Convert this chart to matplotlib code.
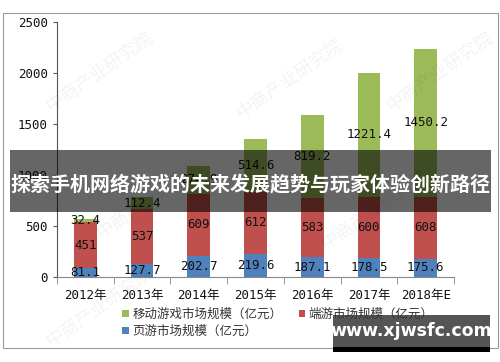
import matplotlib.pyplot as plt
from matplotlib.patches import Rectangle
import numpy as np

# data (亿元)
years = ["2012年", "2013年", "2014年", "2015年", "2016年", "2017年", "2018年E"]
web_game = [81.1, 127.7, 202.7, 219.6, 187.1, 178.5, 175.6]
pc_game = [451, 537, 609, 612, 583, 600, 608]
mobile_game = [32.4, 112.4, 274.9, 514.6, 819.2, 1221.4, 1450.2]

title = "探索手机网络游戏的未来发展趋势与玩家体验创新路径"
site = "www.xjwsfc.com"

plt.rcParams['font.family'] = ['Noto Sans CJK SC', 'DejaVu Sans']
num_font = ['DejaVu Sans Mono', 'Noto Sans CJK SC']

blue = "#4F81BD"
red = "#C0504D"
green = "#9BBB59"

fig = plt.figure(figsize=(5, 3.62), dpi=100)
ax = fig.add_axes([0.114, 0.236, 0.794, 0.704])

x = np.arange(len(years))
w = 0.4
b1 = ax.bar(x, web_game, w, color=blue, label="页游市场规模（亿元）")
b2 = ax.bar(x, pc_game, w, bottom=web_game, color=red, label="端游市场规模（亿元）")
bottom3 = np.array(web_game) + np.array(pc_game)
b3 = ax.bar(x, mobile_game, w, bottom=bottom3, color=green, label="移动游戏市场规模（亿元）")

# value labels centered in each segment
for i in range(len(years)):
    ax.text(x[i], web_game[i] / 2, f"{web_game[i]:.1f}", ha="center", va="center",
            fontsize=9, family=num_font, color="#111111")
    ax.text(x[i], web_game[i] + pc_game[i] / 2, f"{pc_game[i]:g}", ha="center", va="center",
            fontsize=9, family=num_font, color="#111111")
    ax.text(x[i], bottom3[i] + mobile_game[i] / 2, f"{mobile_game[i]:.1f}", ha="center",
            va="center", fontsize=9, family=num_font, color="#111111")

ax.set_xlim(-0.5, len(years) - 0.5)
ax.set_ylim(0, 2500)
ax.set_yticks(range(0, 2501, 500))
ax.tick_params(axis="y", direction="out", length=3, color="#555555", labelsize=9,
               labelcolor="#111111")
for lab in ax.get_yticklabels():
    lab.set_family(num_font)

ax.set_xticks(x)
ax.set_xticklabels(years, fontsize=9, color="#111111")
for lab in ax.get_xticklabels():
    lab.set_family(num_font)
ax.tick_params(axis="x", which="major", length=0, pad=9)
ax.set_xticks(np.arange(-0.5, len(years), 1), minor=True)
ax.tick_params(axis="x", which="minor", direction="out", length=5, color="#888888")

for s in ["top", "right"]:
    ax.spines[s].set_visible(False)
ax.spines["left"].set_color("#555555")
ax.spines["bottom"].set_color("#888888")

# legend below the chart (column-first order gives rows: mobile, pc / web)
leg = fig.legend(handles=[b3, b1, b2], loc="upper left", bbox_to_anchor=(0.232, 0.167),
                 ncol=2, frameon=False, fontsize=9, handlelength=0.5, handleheight=0.5,
                 handletextpad=0.3, columnspacing=1.3, labelspacing=0.35, borderpad=0)
for t in leg.get_texts():
    t.set_color("#333333")

# faint watermarks
for (wx, wy) in [(0.2, 0.8), (0.58, 0.78), (0.3, 0.45), (0.75, 0.42), (0.2, 0.15), (0.88, 0.8)]:
    fig.text(wx, wy, "中商产业研究院", rotation=35, fontsize=13, color="#000000",
             alpha=0.05, ha="center", va="center")

# outer frame
fig.patches.append(Rectangle((0.005, 0.04), 0.99, 0.925, transform=fig.transFigure,
                             fill=False, edgecolor="#999999", lw=0.8))

# dark banner with title
fig.patches.append(Rectangle((0.02, 1 - 212 / 362), 0.962, 62 / 362, transform=fig.transFigure,
                             facecolor="black", alpha=0.6, edgecolor="none", zorder=5))
fig.text(0.5, 1 - 184 / 362, title, ha="center", va="center", color="white",
         fontsize=14.4, fontweight="bold", zorder=6)

# site box
fig.patches.append(Rectangle((333 / 500, 1 - 352 / 362), 157 / 500, 6 / 362,
                             transform=fig.transFigure, facecolor="black", edgecolor="none",
                             zorder=5))
fig.patches.append(Rectangle((333 / 500, 1 - 347 / 362), 157 / 500, 32 / 362,
                             transform=fig.transFigure, facecolor="#555555", edgecolor="none",
                             zorder=5))
fig.text(411 / 500, 1 - 331 / 362, site, ha="center", va="center", color="white",
         fontsize=12.5, fontweight="bold", family="DejaVu Sans", zorder=6)

fig.savefig("out.png", dpi=100)
